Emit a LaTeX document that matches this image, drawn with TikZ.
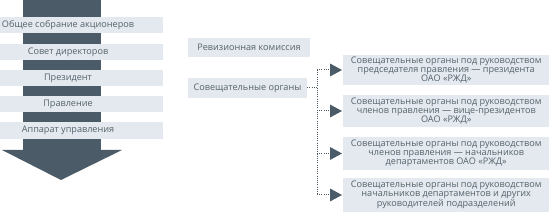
\documentclass[tikz,border=0pt]{standalone}
\usepackage{fontspec}
\setmainfont{Open Sans}
\usetikzlibrary{arrows.meta}
\definecolor{boxfill}{HTML}{E3E9EE}
\definecolor{darkgray}{HTML}{4B5B67}
\definecolor{txt}{HTML}{56626C}
\begin{document}
\begin{tikzpicture}[x=1pt,y=-1pt,
  lbl/.style={text=txt,font=\fontsize{9.1}{9}\selectfont,inner sep=0pt},
  lbox/.style={fill=boxfill,draw=none},
  rbox/.style={fill=boxfill,draw=none,anchor=west,minimum width=206pt,inner sep=0pt,
     text=txt,font=\fontsize{9.1}{9}\selectfont,align=center},
  mbox/.style={fill=boxfill,draw=none,inner sep=0pt,text=txt,font=\fontsize{9.1}{9}\selectfont},
  dotline/.style={draw=darkgray,line width=1pt,dash pattern=on 1pt off 1.2pt},
  tipline/.style={dotline,shorten >=13pt},
  tiphead/.style={fill=darkgray}]
\useasboundingbox (0,0) rectangle (549,213);
% left column and big arrow
\fill[darkgray] (23,0) rectangle (101,150);
\fill[darkgray] (2,150) -- (122,150) -- (61,180) -- cycle;
% left boxes
\fill[lbox] (0,17) rectangle (163,33);
\fill[lbox] (0,44) rectangle (163,60);
\fill[lbox] (0,70) rectangle (163,86);
\fill[lbox] (0,96) rectangle (163,112);
\fill[lbox] (0,122) rectangle (163,139);
\node[lbl] (l1) at (68,25) {Общее собрание акционеров};
\node[lbl] (l2) at (68,52) {Совет директоров};
\node[lbl] (l3) at (68,78) {Президент};
\node[lbl] (l4) at (68,104) {Правление};
\node[lbl] (l5) at (68,130.5) {Аппарат управления};
% middle boxes
\node[mbox,minimum width=122pt,minimum height=19pt] (rev) at (249,47.5) {Ревизионная комиссия};
\node[mbox,minimum width=119pt,minimum height=20pt] (sov) at (247.5,88) {Совещательные органы};
% right boxes
\node[rbox,minimum height=30pt] (r1) at (343,70) {Совещательные органы под руководством\\председателя правления — президента\\ОАО «РЖД»};
\node[rbox,minimum height=32pt] (r2) at (343,111) {Совещательные органы под руководством\\членов правления — вице-президентов\\ОАО «РЖД»};
\node[rbox,minimum height=33pt] (r3) at (343,153.5) {Совещательные органы под руководством\\членов правления — начальников\\департаментов ОАО «РЖД»};
\node[rbox,minimum height=34pt] (r4) at (343,195) {Совещательные органы под руководством\\начальников департаментов и других\\руководителей подразделений};
% connectors
\coordinate (jm) at (317,88);
\coordinate (j1) at (317,70);
\coordinate (j2) at (317,111);
\coordinate (j3) at (317,153.5);
\coordinate (j4) at (317,195);
\draw[dotline] (sov.east) -- (jm);
\draw[dotline] (j1) -- (j4);
\foreach \r/\j in {r1/j1,r2/j2,r3/j3,r4/j4}{
  \draw[tipline] (\j) -- (\r.west);
  \fill[tiphead] ([xshift=-13pt,yshift=6.5pt]\r.west) -- ([xshift=-1pt]\r.west) -- ([xshift=-13pt,yshift=-6.5pt]\r.west) -- cycle;
}
\end{tikzpicture}
\end{document}
